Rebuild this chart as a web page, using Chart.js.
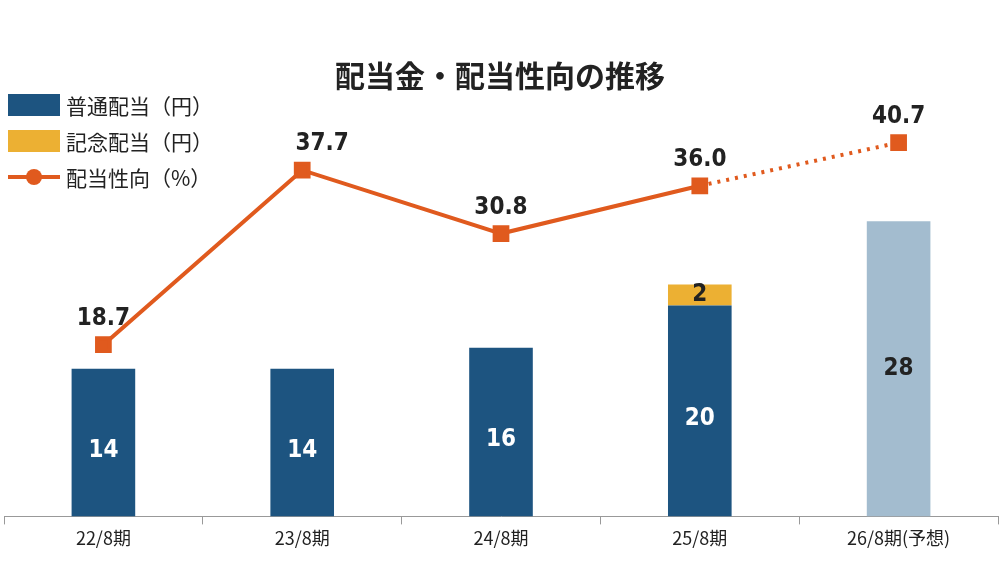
<!DOCTYPE html>
<html><head><meta charset="utf-8">
<script src="https://cdn.jsdelivr.net/npm/chart.js@4"></script>
<style>
body{margin:0;background:#fff;font-family:"Noto Sans CJK JP",sans-serif;overflow:hidden;}
#wrap{position:relative;width:1000px;height:579px;overflow:hidden;}
#c{position:absolute;left:-9px;top:0;}
#title{position:absolute;left:0;width:1000px;top:52px;text-align:center;font-size:30px;font-weight:bold;color:#222;}
.lg{position:absolute;left:8px;font-size:21px;color:#222;display:flex;align-items:center;}
.sw{width:52px;height:22px;margin-right:6px;}
</style></head><body>
<div id="wrap">
<canvas id="c" width="1020" height="579"></canvas>
<div id="title">配当金・配当性向の推移</div>
<div class="lg" style="top:90px"><div class="sw" style="background:#1d5480"></div>普通配当（円）</div>
<div class="lg" style="top:126px"><div class="sw" style="background:#ecb033"></div>記念配当（円）</div>
<div class="lg" style="top:162px"><svg width="52" height="22" style="margin-right:6px"><line x1="0" y1="11" x2="52" y2="11" stroke="#e05a1e" stroke-width="4"/><circle cx="26" cy="11" r="8" fill="#e05a1e"/></svg>配当性向（%）</div>
</div>
<script>
const categories = ['22/8期', '23/8期', '24/8期', '25/8期', '26/8期(予想)'];
const ordinaryDiv = [14, 14, 16, 20, null];
const commemorativeDiv = [null, null, null, 2, null];
const forecastDiv = [null, null, null, null, 28];
const payoutRatio = [18.7, 37.7, 30.8, 36.0, 40.7];

const navy = '#1d5480', gold = '#ecb033', pale = '#a3bccf', orange = '#e05a1e';

const labelPlugin = {
  id: 'labels',
  afterDatasetsDraw(chart) {
    const ctx = chart.ctx;
    ctx.save();
    ctx.font = 'bold 24px "Liberation Sans Narrow", "DejaVu Sans Condensed", sans-serif';
    ctx.textAlign = 'center';
    ctx.textBaseline = 'middle';
    [0, 1, 2].forEach(di => {
      const meta = chart.getDatasetMeta(di);
      meta.data.forEach((el, i) => {
        const v = chart.data.datasets[di].data[i];
        if (v == null) return;
        ctx.fillStyle = di === 0 ? '#fff' : '#222';
        ctx.fillText(String(v), el.x, (el.y + el.base) / 2 + (di === 0 ? 8 : 0));
      });
    });
    const lm = chart.getDatasetMeta(3);
    ctx.fillStyle = '#222';
    lm.data.forEach((el, i) => {
      ctx.fillText(payoutRatio[i].toFixed(1), el.x + (i === 1 ? 20 : 0), el.y - 26);
    });
    ctx.restore();
  }
};

new Chart(document.getElementById('c'), {
  data: {
    labels: categories,
    datasets: [
      { type: 'bar', data: ordinaryDiv, backgroundColor: navy, stack: 's', barPercentage: 0.32, categoryPercentage: 1, yAxisID: 'y', order: 2 },
      { type: 'bar', data: commemorativeDiv, backgroundColor: gold, stack: 's', barPercentage: 0.32, categoryPercentage: 1, yAxisID: 'y', order: 2 },
      { type: 'bar', data: forecastDiv, backgroundColor: pale, stack: 's', barPercentage: 0.32, categoryPercentage: 1, yAxisID: 'y', order: 2 },
      { type: 'line', data: payoutRatio, borderColor: orange, borderWidth: 4, pointStyle: 'rect', pointRadius: 9,
        pointBackgroundColor: orange, pointBorderColor: orange, yAxisID: 'y2', order: 1,
        segment: { borderDash: c => c.p1DataIndex === 4 ? [3, 6] : undefined } }
    ]
  },
  options: {
    responsive: false,
    animation: false,
    layout: { padding: { top: 60, left: 3, right: 2, bottom: 27 } },
    plugins: { legend: { display: false }, tooltip: { enabled: false } },
    scales: {
      x: {
        stacked: true,
        grid: { display: true, drawOnChartArea: false, offset: true, color: '#999', tickLength: 8 },
        border: { color: '#999' },
        ticks: { color: '#222', font: { size: 18, family: '"Noto Sans CJK JP", sans-serif' } }
      },
      y: { stacked: true, display: false, min: 0, max: 43.3 },
      y2: { display: false, min: 0, max: 49.7 }
    }
  },
  plugins: [labelPlugin]
});
</script>
</body></html>
